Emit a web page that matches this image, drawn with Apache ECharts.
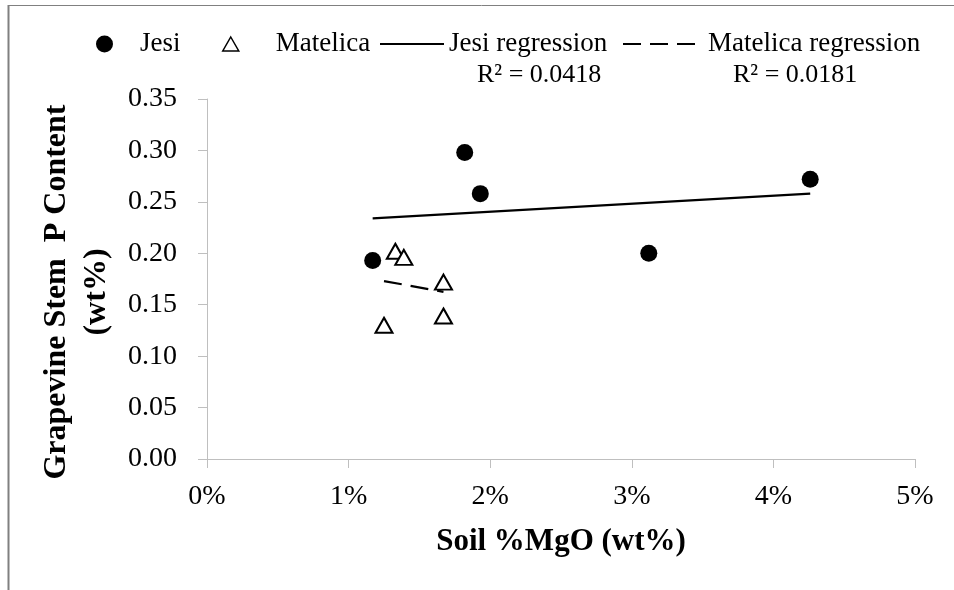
<!DOCTYPE html>
<html>
<head>
<meta charset="utf-8">
<script src="https://cdn.jsdelivr.net/npm/echarts@6/dist/echarts.min.js"></script>
<style>html,body{margin:0;padding:0;background:#fff;}#c{width:954px;height:590px;}</style>
</head>
<body>
<div id="c"></div>
<script>
// Data
const jesiX = [1.17, 1.82, 1.93, 3.12, 4.26];
const jesiY = [0.193, 0.298, 0.258, 0.200, 0.272];
const matelicaX = [1.33, 1.39, 1.67, 1.67, 1.25];
const matelicaY = [0.202, 0.196, 0.172, 0.139, 0.130];
const jesiRegX = [1.17, 4.26];
const jesiRegY = [0.234, 0.258];
const matelicaRegX = [1.25, 1.67];
const matelicaRegY = [0.173, 0.1625];
const jesiR2 = 'R² = 0.0418';
const matelicaR2 = 'R² = 0.0181';
const xTicks = {min: 0, max: 5, interval: 1};
const yTicks = {min: 0, max: 0.35, interval: 0.05};

const zip = (a, b) => a.map((v, i) => [v, b[i]]);
const FONT = '"Liberation Serif", "Times New Roman", serif';
const legendText = {fontFamily: FONT, fontSize: 27, color: '#000', lineHeight: 30};

const chart = echarts.init(document.getElementById('c'), null, {renderer: 'canvas'});
chart.setOption({
  animation: false,
  backgroundColor: '#fff',
  grid: {left: 207, right: 39, top: 99, bottom: 131, containLabel: false},
  legend: [
    {data: ['Jesi'], left: 96, top: 29, padding: 0, itemWidth: 17, itemHeight: 17,
     textStyle: Object.assign({padding: [0, 0, 0, 22]}, legendText), selectedMode: false},
    {data: ['Matelica'], left: 222, top: 29, padding: 0, itemWidth: 16, itemHeight: 14,
     itemStyle: {borderWidth: 1.5},
     textStyle: Object.assign({padding: [0, 0, 0, 32]}, legendText), selectedMode: false},
    {data: ['Jesi regression'], left: 379, top: 29, padding: 0, itemWidth: 64, itemHeight: 14,
     itemStyle: {opacity: 0},
     textStyle: Object.assign({padding: [0, 0, 0, 0]}, legendText), selectedMode: false},
    {data: ['Matelica regression'], left: 622, top: 29, padding: 0, itemWidth: 80, itemHeight: 14,
     itemStyle: {opacity: 0},
     textStyle: Object.assign({padding: [0, 0, 0, 0]}, legendText), selectedMode: false}
  ],
  xAxis: {
    type: 'value', min: xTicks.min, max: xTicks.max, interval: xTicks.interval,
    name: 'Soil %MgO (wt%)', nameLocation: 'middle', nameGap: 67,
    nameTextStyle: {fontFamily: FONT, fontSize: 31, fontWeight: 'bold', color: '#000'},
    axisLine: {show: true, lineStyle: {color: '#BFBFBF', width: 1}},
    axisTick: {show: true, length: 9, lineStyle: {color: '#BFBFBF'}},
    splitLine: {show: false},
    axisLabel: {fontFamily: FONT, fontSize: 28, color: '#000', margin: 24,
      formatter: v => v + '%'}
  },
  yAxis: {
    type: 'value', min: yTicks.min, max: yTicks.max, interval: yTicks.interval,
    name: 'Grapevine Stem  P Content\n(wt%)', nameLocation: 'middle', nameGap: 86, nameRotate: 90,
    nameTextStyle: {fontFamily: FONT, fontSize: 32, fontWeight: 'bold', color: '#000', lineHeight: 40,
      padding: [0, 26, 0, 0]},
    axisLine: {show: true, lineStyle: {color: '#BFBFBF', width: 1}},
    axisTick: {show: true, length: 9, lineStyle: {color: '#BFBFBF'}},
    splitLine: {show: false},
    axisLabel: {fontFamily: FONT, fontSize: 28, color: '#000', margin: 30,
      formatter: v => v.toFixed(2)}
  },
  series: [
    {name: 'Jesi regression', type: 'line', data: zip(jesiRegX, jesiRegY), symbol: 'none',
     lineStyle: {color: '#000', width: 2.2}, itemStyle: {color: '#000'}, silent: true, z: 2},
    {name: 'Matelica regression', type: 'line', data: zip(matelicaRegX, matelicaRegY), symbol: 'none',
     lineStyle: {color: '#000', width: 2.2, type: [18, 9]}, itemStyle: {color: '#000'}, silent: true, z: 2},
    {name: 'Jesi', type: 'scatter', data: zip(jesiX, jesiY), symbol: 'circle', symbolSize: 17,
     itemStyle: {color: '#000', opacity: 1}, silent: true, z: 3},
    {name: 'Matelica', type: 'scatter', data: zip(matelicaX, matelicaY), symbol: 'triangle', symbolSize: [17, 15],
     itemStyle: {color: '#fff', borderColor: '#000', borderWidth: 2, opacity: 1}, silent: true, z: 3}
  ],
  graphic: [
    {type: 'text', left: 477, top: 62, style: {text: jesiR2, font: '26px "Liberation Serif"', fill: '#000'}},
    {type: 'text', left: 733, top: 62, style: {text: matelicaR2, font: '26px "Liberation Serif"', fill: '#000'}},
    {type: 'line', shape: {x1: 9, y1: 5.5, x2: 954, y2: 5.5}, style: {stroke: '#808080', lineWidth: 1}},
    {type: 'line', shape: {x1: 8.5, y1: 5, x2: 8.5, y2: 590}, style: {stroke: '#808080', lineWidth: 2}}
  ]
});
</script>
</body>
</html>
